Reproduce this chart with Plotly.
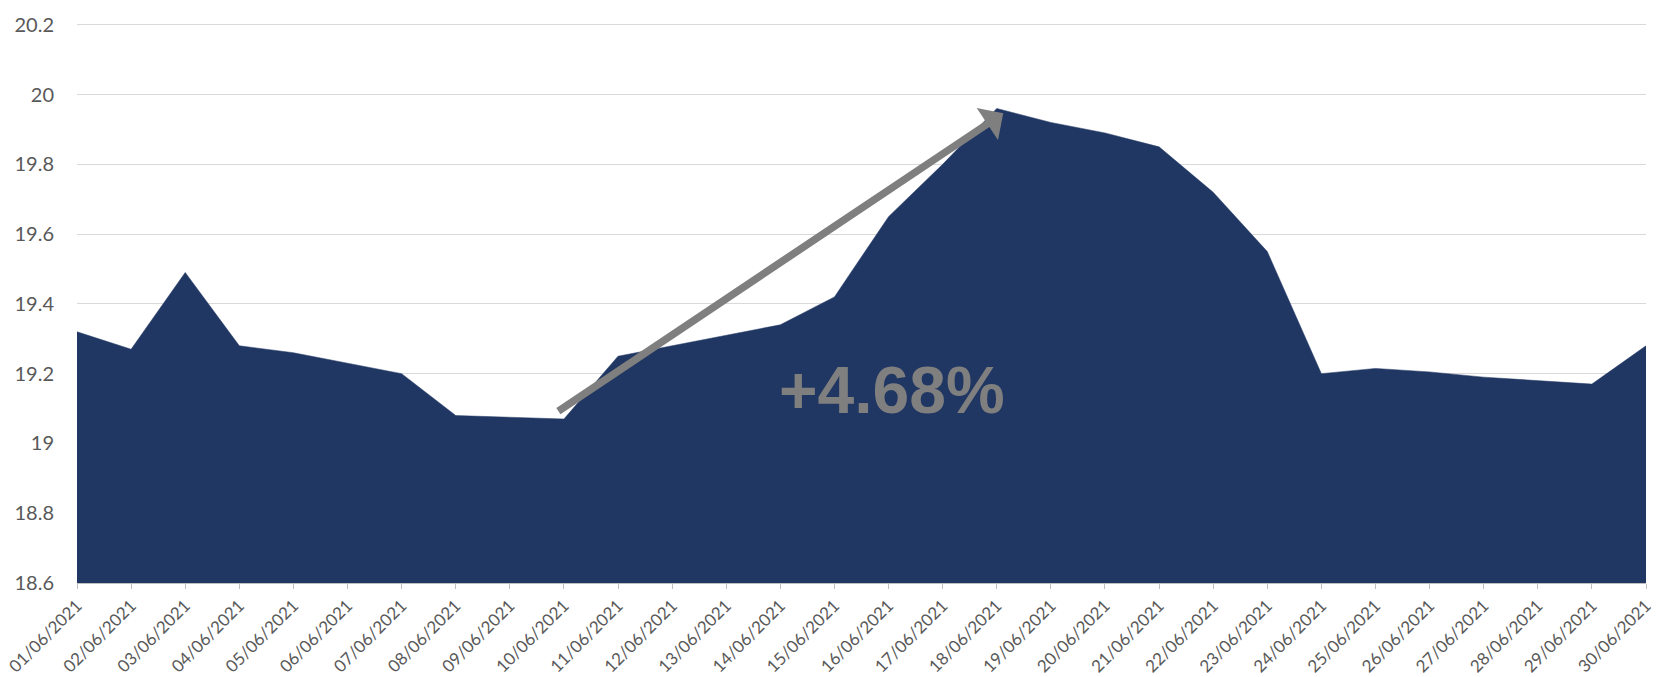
import plotly.graph_objects as go

dates = ["01/06/2021", "02/06/2021", "03/06/2021", "04/06/2021", "05/06/2021",
         "06/06/2021", "07/06/2021", "08/06/2021", "09/06/2021", "10/06/2021",
         "11/06/2021", "12/06/2021", "13/06/2021", "14/06/2021", "15/06/2021",
         "16/06/2021", "17/06/2021", "18/06/2021", "19/06/2021", "20/06/2021",
         "21/06/2021", "22/06/2021", "23/06/2021", "24/06/2021", "25/06/2021",
         "26/06/2021", "27/06/2021", "28/06/2021", "29/06/2021", "30/06/2021"]
values = [19.32, 19.27, 19.49, 19.28, 19.26, 19.23, 19.20, 19.08, 19.075, 19.07,
          19.25, 19.28, 19.31, 19.34, 19.42, 19.65, 19.80, 19.96, 19.92, 19.89,
          19.85, 19.72, 19.55, 19.20, 19.215, 19.205, 19.19, 19.18, 19.17, 19.28]
y_ticks = [18.6, 18.8, 19.0, 19.2, 19.4, 19.6, 19.8, 20.0, 20.2]
y_tick_text = ["18.6", "18.8", "19", "19.2", "19.4", "19.6", "19.8", "20", "20.2"]
change_label = "+4.68%"
arrow_start = (8.87, 19.09)
arrow_end = (17.12, 19.946)
label_pos = (15.06, 19.153)

navy = "#213763"
grey_text = "#595959"

fig = go.Figure()
fig.add_trace(go.Scatter(
    x=dates, y=values, mode="lines", fill="tozeroy",
    line=dict(color=navy, width=0.5), fillcolor=navy,
    hoverinfo="x+y", showlegend=False,
))

fig.add_annotation(
    x=arrow_end[0], y=arrow_end[1], ax=arrow_start[0], ay=arrow_start[1],
    xref="x", yref="y", axref="x", ayref="y",
    text="", showarrow=True, arrowhead=1, arrowsize=0.85, arrowwidth=7.5,
    arrowcolor="#7f7f7f", standoff=0, startstandoff=0,
)
fig.add_annotation(
    x=label_pos[0], y=label_pos[1], xref="x", yref="y",
    text="<b>" + change_label + "</b>", showarrow=False,
    font=dict(family="Liberation Sans", size=66, color="#7f7f7f"),
)

fig.update_layout(
    width=1663, height=677,
    margin=dict(l=77, r=17, t=23, b=94),
    paper_bgcolor="white", plot_bgcolor="white",
    font=dict(family="Lato", color=grey_text),
)
fig.update_xaxes(
    type="category", range=[0, len(dates) - 1], automargin=False,
    tickangle=-45, tickfont=dict(size=17, color=grey_text),
    showgrid=False, showline=True, linecolor="#bfbfbf", linewidth=1,
    ticks="outside", ticklen=5, tickcolor="#bfbfbf",
)
fig.update_yaxes(
    range=[18.6, 20.205], tickvals=y_ticks, ticktext=y_tick_text,
    automargin=False,
    tickfont=dict(size=20, color=grey_text),
    showgrid=True, gridcolor="#d9d9d9", gridwidth=1,
    zeroline=False, showline=False, ticklabelstandoff=22,
)

fig.write_html(
    "out.html",
    config={"displayModeBar": False},
    post_script="document.body.style.margin='0';document.body.style.overflow='hidden';",
)
